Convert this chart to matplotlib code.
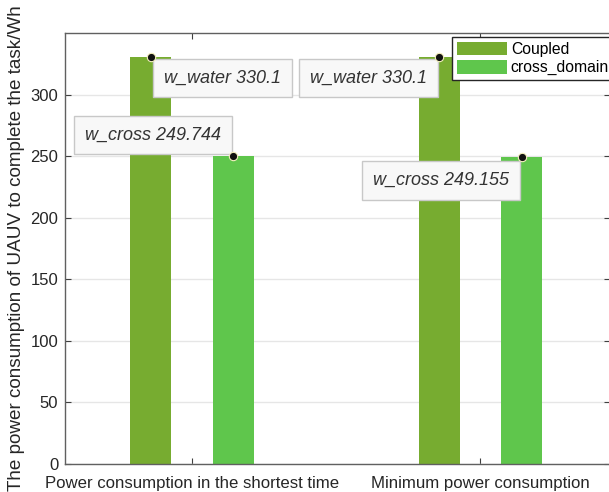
import numpy as np
import matplotlib.pyplot as plt

plt.rcParams['font.family'] = ['Liberation Sans', 'DejaVu Sans']

categories = ['Power consumption in the shortest time', 'Minimum power consumption']
coupled = [330.1, 330.1]
cross_domain = [249.744, 249.155]
series_names = ['Coupled', 'cross_domain']
tip_names = ['w_water', 'w_cross']

fig = plt.figure(figsize=(6.09, 4.92), dpi=100)
ax = fig.add_axes([0.107, 0.057, 0.895, 0.876])

x = np.arange(1, len(categories) + 1)
off = 0.143
w = 0.141
ax.bar(x - off, coupled, w, color='#77AC30', label=series_names[0], zorder=2)
ax.bar(x + off, cross_domain, w, color='#5FC64C', label=series_names[1], zorder=2)

ax.set_xlim(0.56, 2.45)
ax.set_ylim(0, 350)
ax.set_xticks(x)
ax.set_xticklabels(categories, fontsize=12.1, color='#262626')
ax.set_yticks(np.arange(0, 351, 50)[:-1])
ax.tick_params(axis='y', labelsize=12, labelcolor='#262626', pad=5)
ax.tick_params(axis='x', pad=9)
ax.tick_params(direction='in', top=True, right=True, color='#404040', length=4)
ax.yaxis.grid(True, color='#E6E6E6', linewidth=1, zorder=0)
ax.set_axisbelow(True)
for s in ax.spines.values():
    s.set_color('#606060')
    s.set_linewidth(1)
ax.set_ylabel('The power consumption of UAUV to complete the task/Wh',
              fontsize=13.6, color='#262626', labelpad=4)

# data tips: (x, y, name, offset in px, ha, va)
tips = [
    (x[0] - off, coupled[0], tip_names[0], (13, -12), 'left', 'top'),
    (x[0] + off, cross_domain[0], tip_names[1], (-12, 13), 'right', 'bottom'),
    (x[1] - off, coupled[1], tip_names[0], (-12, -12), 'right', 'top'),
    (x[1] + off, cross_domain[1], tip_names[1], (-13, -15), 'right', 'top'),
]
for tx, ty, name, (dx, dy), ha, va in tips:
    ax.plot(tx, ty, 'o', color='#111111', markersize=6,
            markeredgecolor='#F5F0C0', markeredgewidth=0.8, zorder=6)
    ax.annotate(f'{name} {ty:g}', (tx, ty), xytext=(dx, dy),
                textcoords='offset pixels', ha=ha, va=va,
                fontsize=13, style='italic', color='#333333', zorder=5,
                bbox=dict(boxstyle='square,pad=0.6', fc='#F8F8F8',
                          ec='#C8C8C8', lw=1))

fig.legend(loc='upper left', bbox_to_anchor=(452 / 609, 1 - 37 / 492),
           fontsize=11.3, fancybox=False, edgecolor='#262626', framealpha=1,
           handlelength=3.2, handleheight=0.95, handletextpad=0.25,
           borderpad=0.3, labelspacing=0.2, borderaxespad=0)

fig.savefig('out.png', dpi=100)
